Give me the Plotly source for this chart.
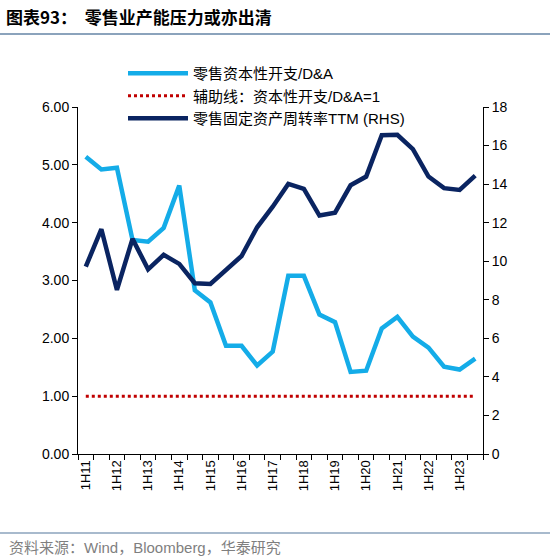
import plotly.graph_objects as go

categories = []
for yr in range(11, 24):
    categories += [f"1H{yr}", f"2H{yr}"]

capex_da = [5.14, 4.92, 4.95, 3.70, 3.67, 3.91, 4.64, 2.83, 2.62, 1.87, 1.87, 1.53, 1.77,
            3.08, 3.08, 2.41, 2.28, 1.42, 1.44, 2.17, 2.37, 2.03, 1.84, 1.51, 1.46, 1.65]
guide = [1.0] * len(categories)
turnover = [9.72, 11.66, 8.51, 11.16, 9.58, 10.33, 9.86, 8.86, 8.82, 9.58, 10.27, 11.76, 12.83,
            14.01, 13.75, 12.37, 12.52, 13.94, 14.39, 16.54, 16.56, 15.81, 14.39, 13.79, 13.70, 14.44]
tick_text = [c if c.startswith("1H") else "" for c in categories]

FONT = "Liberation Sans, Noto Sans CJK SC, sans-serif"
CJK = "Noto Sans CJK SC, Liberation Sans, sans-serif"

W, H = 550, 560
L, R, T, B = 78, 67, 107, 106
PW, PH = W - L - R, H - T - B


def px(xp):
    return (xp - L) / PW


def py(yp):
    return (H - B - yp) / PH


fig = go.Figure()
fig.add_trace(go.Scatter(x=categories, y=capex_da, mode="lines", name="零售资本性开支/D&A",
                         line=dict(color="#14ACE8", width=4.5)))
fig.add_trace(go.Scatter(x=categories, y=guide, mode="lines", name="辅助线：资本性开支/D&A=1",
                         line=dict(color="#C00000", width=3, dash="dot")))
fig.add_trace(go.Scatter(x=categories, y=turnover, mode="lines", name="零售固定资产周转率TTM (RHS)",
                         line=dict(color="#0A2461", width=4.5), yaxis="y2"))

fig.update_layout(
    width=W, height=H,
    margin=dict(l=L, r=R, t=T, b=B, autoexpand=False),
    paper_bgcolor="white", plot_bgcolor="white",
    font=dict(family=FONT, size=13, color="#000000"),
    showlegend=True,
    legend=dict(x=px(123), y=py(57), xanchor="left", yanchor="top",
                font=dict(family=FONT, size=15, color="#000000"),
                bgcolor="rgba(0,0,0,0)", itemwidth=60, tracegroupgap=0),
    xaxis=dict(type="category", tickmode="array", tickvals=categories, ticktext=tick_text,
               tickangle=-90, showline=True, linecolor="#000000", linewidth=1,
               ticks="outside", ticklen=5, tickcolor="#000000", tickson="boundaries",
               showgrid=False, zeroline=False, range=[-0.5, 25.5], automargin=False,
               tickfont=dict(size=13)),
    yaxis=dict(range=[0, 6], dtick=1, tickformat=".2f", showline=True, linecolor="#000000",
               linewidth=1, ticks="outside", ticklen=5, tickcolor="#000000", automargin=False,
               showgrid=False, zeroline=False, tickfont=dict(size=14)),
    yaxis2=dict(range=[0, 18], dtick=2, overlaying="y", side="right", showline=True,
                linecolor="#000000", linewidth=1, ticks="outside", ticklen=5, automargin=False,
                tickcolor="#000000", showgrid=False, zeroline=False, tickfont=dict(size=14)),
)

fig.add_annotation(text="<b>图表93：  零售业产能压力或亦出清</b>", xref="paper", yref="paper",
                   x=px(4), y=py(17), xanchor="left", yanchor="middle",
                   showarrow=False, font=dict(family=CJK, size=17, color="#000000"))
fig.add_shape(type="line", xref="paper", yref="paper", x0=px(0), x1=px(W),
              y0=py(34), y1=py(34), line=dict(color="#8BA3BC", width=2))
fig.add_shape(type="line", xref="paper", yref="paper", x0=px(0), x1=px(W),
              y0=py(533), y1=py(533), line=dict(color="#8BA3BC", width=1.5))
fig.add_annotation(text="资料来源：Wind，Bloomberg，华泰研究", xref="paper", yref="paper",
                   x=px(7), y=py(547), xanchor="left", yanchor="middle",
                   showarrow=False, font=dict(family=FONT, size=15, color="#7F7F7F"))

fig.write_html("out.html", config={"displayModeBar": False})

# remove the browser's default 8px body margin so the figure sits at the page origin
with open("out.html", encoding="utf-8") as f:
    html = f.read()
html = html.replace("<head>", "<head><style>html,body{margin:0;padding:0;}</style>", 1)
with open("out.html", "w", encoding="utf-8") as f:
    f.write(html)
